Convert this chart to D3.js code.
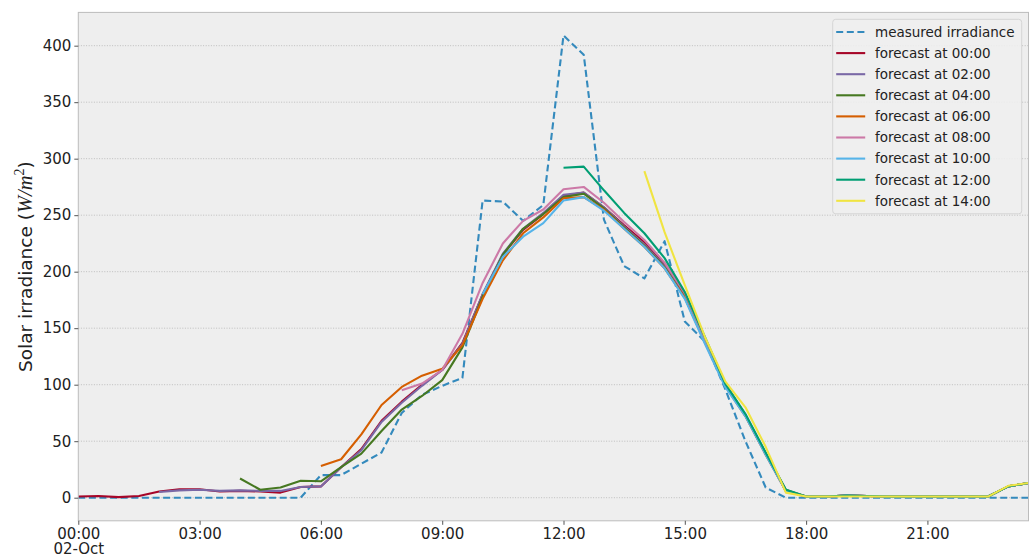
<!DOCTYPE html>
<html><head><meta charset="utf-8">
<script src="https://cdn.jsdelivr.net/npm/d3@7"></script>
<style>
body{margin:0;background:#fff}
svg{display:block}
text{font-family:"DejaVu Sans",sans-serif}
</style>
</head><body>
<svg id="chart" width="1035" height="557"></svg>
<script>
// ---- data ----
const times = ["00:00","00:30","01:00","01:30","02:00","02:30","03:00","03:30","04:00","04:30","05:00","05:30",
  "06:00","06:30","07:00","07:30","08:00","08:30","09:00","09:30","10:00","10:30","11:00","11:30",
  "12:00","12:30","13:00","13:30","14:00","14:30","15:00","15:30","16:00","16:30","17:00","17:30",
  "18:00","18:30","19:00","19:30","20:00","20:30","21:00","21:30","22:00","22:30","23:00","23:30"];
const dayLabel = "02-Oct";
const xTickLabels = ["00:00","03:00","06:00","09:00","12:00","15:00","18:00","21:00"];
const yTickValues = [0,50,100,150,200,250,300,350,400];

const measured = [0,0,0,0,0,0,0,0,0,0,0,0,
  20,20,30,40,75,91,99,106,263,262,245,259,
  409,392,246,205,194,227,156,138,96,50,9,0,
  0,0,0,0,0,0,0,0,0,0,0,0];
const fc0000 = [1,1.5,0.5,1.5,5.5,7.5,7.5,5.5,6,5.5,4.5,9.5,
  10,27,43,68,85,100,113,137,180,215,237,251,
  267,270,257,241,226,206,179,139,100,73,39,6,
  1,1,2,1.5,1,1,1,1,1,1,10,13];
const fc0200 = [null,null,null,null,5,6.5,7,6,6.5,6,6,9.5,
  10,27,42,67,84,99,113,136,180,216,238,252,
  268,270,257,240,224,205,178,138,100,73,39,6,
  1,1,2,1.5,1,1,1,1,1,1,10,13];
const fc0400 = [null,null,null,null,null,null,null,null,17,7,9,15,
  14.5,27,39,59,78,90,104,133,178,215,238,251,
  266,269,256,239,223,204,177,138,100,73,39,7,
  1,1,2,1.5,1,1,1,1,1,1,10,13];
const fc0600 = [null,null,null,null,null,null,null,null,null,null,null,null,
  28,34,56,82,98,108,114,135,176,210,234,248,
  265,266,255,238,222,203,177,137,99,72,38,6,
  1,1,2,1.5,1,1,1,1,1,1,10,13];
const fc0800 = [null,null,null,null,null,null,null,null,null,null,null,null,
  null,null,null,null,95,101,113,145,190,225,245,255,
  273,275,261,244,228,208,181,140,101,73,39,6,
  1,1,2,1.5,1,1,1,1,1,1,10,13];
const fc1000 = [null,null,null,null,null,null,null,null,null,null,null,null,
  null,null,null,null,null,null,null,null,180,213,231,243,
  263,266,254,238,222,203,176,136,98,72,38,6,
  1,1,2,1.5,1,1,1,1,1,1,10,13];
const fc1200 = [null,null,null,null,null,null,null,null,null,null,null,null,
  null,null,null,null,null,null,null,null,null,null,null,null,
  292,293,272,252,234,212,182,142,101,74,40,7,
  1,1,2,1.5,1,1,1,1,1,1,10,13];
const fc1400 = [null,null,null,null,null,null,null,null,null,null,null,null,
  null,null,null,null,null,null,null,null,null,null,null,null,
  null,null,null,null,289,235,188,142,103,80,45,4.5,
  1,1,1,1,1,1,1,1,1,1,10.5,13];

const seriesNames = ["measured irradiance","forecast at 00:00","forecast at 02:00","forecast at 04:00",
  "forecast at 06:00","forecast at 08:00","forecast at 10:00","forecast at 12:00","forecast at 14:00"];
const seriesValues = [measured,fc0000,fc0200,fc0400,fc0600,fc0800,fc1000,fc1200,fc1400];
const seriesColors = ["#348ABD","#A60628","#7A68A6","#467821","#D55E00","#CC79A7","#56B4E9","#009E73","#F0E442"];

// ---- layout ----
const L = 78.3, R = 1028.5, T = 12.4, B = 520.8;
const svg = d3.select("#chart");
const parse = d3.timeParse("%Y-%m-%d %H:%M");
const dates = times.map(t => parse("2023-10-02 " + t));

const x = d3.scaleTime().domain([dates[0], dates[dates.length-1]]).range([L, R]);
const maxV = d3.max(seriesValues.flat().filter(v => v != null));
const pad = 0.05 * maxV;
const y = d3.scaleLinear().domain([-pad, maxV + pad]).range([B, T]);

// background
svg.append("rect").attr("x", L).attr("y", T).attr("width", R - L).attr("height", B - T)
  .attr("fill", "#eeeeee");

// grid
svg.append("g").selectAll("line").data(yTickValues).join("line")
  .attr("x1", L).attr("x2", R).attr("y1", d => y(d)).attr("y2", d => y(d))
  .attr("stroke", "#b2b2b2").attr("stroke-width", 0.8).attr("stroke-dasharray", "1,1.6");

// lines
const line = d3.line().defined(d => d.v != null).x(d => x(d.t)).y(d => y(d.v));
const gLines = svg.append("g");
seriesValues.forEach((vals, i) => {
  gLines.append("path")
    .datum(vals.map((v, k) => ({t: dates[k], v})))
    .attr("fill", "none")
    .attr("stroke", seriesColors[i])
    .attr("stroke-width", 2.1)
    .attr("stroke-linejoin", "round")
    .attr("stroke-dasharray", i === 0 ? "7,3.6" : null)
    .attr("d", line);
});

// frame
svg.append("rect").attr("x", L).attr("y", T).attr("width", R - L).attr("height", B - T)
  .attr("fill", "none").attr("stroke", "#bcbcbc").attr("stroke-width", 1);

// axes
const xTickDates = xTickLabels.map(t => parse("2023-10-02 " + t));
const xAxis = d3.axisBottom(x).tickValues(xTickDates).tickSize(4).tickPadding(3.5)
  .tickFormat((d, i) => xTickLabels[i]);
const gx = svg.append("g").attr("transform", `translate(0,${B})`).call(xAxis);
gx.select(".domain").remove();
gx.selectAll(".tick line").attr("stroke", "#555");
gx.selectAll(".tick text").attr("font-size", 15).attr("fill", "#222")
  .attr("font-family", "DejaVu Sans");
gx.selectAll(".tick").filter((d, i) => i === 0)
  .append("text").attr("x", 0).attr("y", 23).attr("dy", "0.71em")
  .attr("text-anchor", "middle").attr("font-size", 15).attr("fill", "#222")
  .text(dayLabel);

const yAxis = d3.axisLeft(y).tickValues(yTickValues).tickSize(4).tickPadding(3);
const gy = svg.append("g").attr("transform", `translate(${L},0)`).call(yAxis);
gy.select(".domain").remove();
gy.selectAll(".tick line").attr("stroke", "#555");
gy.selectAll(".tick text").attr("font-size", 15).attr("fill", "#222")
  .attr("font-family", "DejaVu Sans");

// y label
const yl = svg.append("text")
  .attr("transform", `translate(32,${(T + B) / 2}) rotate(-90)`)
  .attr("text-anchor", "middle").attr("font-size", 18.5).attr("fill", "#222");
yl.append("tspan").text("Solar irradiance (");
yl.append("tspan").attr("font-family", "Liberation Serif").attr("font-style", "italic")
  .attr("font-size", 20.5).text("W/m");
yl.append("tspan").attr("font-family", "Liberation Serif").attr("font-size", 14)
  .attr("dy", -8).text("2");
yl.append("tspan").attr("dy", 8).text(")");

// legend
const lg = svg.append("g");
const lgX = 832.7, lgY = 19.3, lgW = 189, lgH = 194.5, rowH = 21.1;
lg.append("rect").attr("x", lgX).attr("y", lgY).attr("width", lgW).attr("height", lgH)
  .attr("rx", 3).attr("fill", "#eeeeee").attr("fill-opacity", 0.9)
  .attr("stroke", "#d5d5d5").attr("stroke-width", 1);
const rows = lg.selectAll("g.row").data(seriesNames).join("g")
  .attr("transform", (d, i) => `translate(${lgX},${lgY + 12.7 + i * rowH})`);
rows.append("line").attr("x1", 3.5).attr("x2", 32.5).attr("y1", 0).attr("y2", 0)
  .attr("stroke", (d, i) => seriesColors[i]).attr("stroke-width", 2.1)
  .attr("stroke-dasharray", (d, i) => i === 0 ? "7,3.6" : null);
rows.append("text").attr("x", 42.3).attr("y", 0).attr("dy", "0.36em")
  .attr("font-size", 13.5).attr("fill", "#222").text(d => d);
</script>
</body></html>
